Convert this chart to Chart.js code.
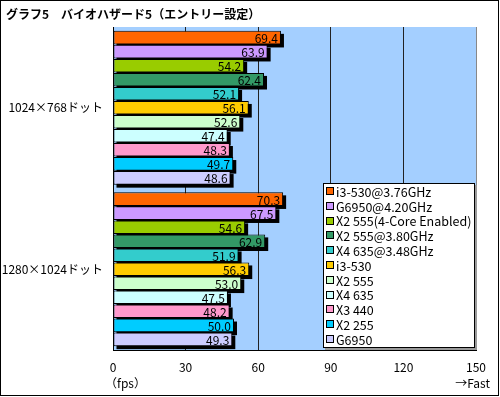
<!DOCTYPE html>
<html><head><meta charset="utf-8">
<script src="https://cdn.jsdelivr.net/npm/chart.js@4/dist/chart.umd.min.js"></script>
<style>
html,body{margin:0;padding:0;background:#fff;}
#wrap{position:relative;width:500px;height:397px;}
</style></head>
<body><div id="wrap"><canvas id="c" width="500" height="397"></canvas></div>
<script>
const titleText = 'グラフ5　バイオハザード5（エントリー設定）';
const categories = ['1024×768ドット', '1280×1024ドット'];
const seriesNames = ['i3-530@3.76GHz','G6950@4.20GHz','X2 555(4-Core Enabled)','X2 555@3.80GHz','X4 635@3.48GHz','i3-530','X2 555','X4 635','X3 440','X2 255','G6950'];
const seriesColors = ['#ff6600','#cc99ff','#99cc00','#339966','#33cccc','#ffcc00','#ccffcc','#ccffff','#ff99cc','#00ccff','#ccccff'];
const vals_i3_530_oc = [69.4, 70.3];
const vals_g6950_oc = [63.9, 67.5];
const vals_x2555_4core = [54.2, 54.6];
const vals_x2555_oc = [62.4, 62.9];
const vals_x4635_oc = [52.1, 51.9];
const vals_i3_530 = [56.1, 56.3];
const vals_x2555 = [52.6, 53.0];
const vals_x4635 = [47.4, 47.5];
const vals_x3440 = [48.3, 48.2];
const vals_x2255 = [49.7, 50.0];
const vals_g6950 = [48.6, 49.3];
const seriesValues = [vals_i3_530_oc, vals_g6950_oc, vals_x2555_4core, vals_x2555_oc, vals_x4635_oc, vals_i3_530, vals_x2555, vals_x4635, vals_x3440, vals_x2255, vals_g6950];
const xTicks = [0, 30, 60, 90, 120, 150];

const FONT = '"Noto Sans CJK JP", "DejaVu Sans", sans-serif';

const datasets = seriesNames.map((n, i) => ({
  label: n,
  data: seriesValues[i],
  backgroundColor: seriesColors[i],
  borderColor: '#000',
  borderWidth: 1,
  borderSkipped: false,
  categoryPercentage: 0.955,
  barPercentage: 0.97
}));

const decor = {
  id: 'decor',
  beforeDraw(chart) {
    const {ctx, chartArea: a} = chart;
    ctx.save();
    ctx.fillStyle = '#fff';
    ctx.fillRect(0, 0, chart.width, chart.height);
    ctx.fillStyle = '#a4cfff';
    ctx.fillRect(a.left, a.top, a.right - a.left, a.bottom - a.top);
    ctx.restore();
  },
  beforeDatasetsDraw(chart) {
    const ctx = chart.ctx;
    ctx.save();
    ctx.fillStyle = '#000';
    chart.data.datasets.forEach((ds, i) => {
      chart.getDatasetMeta(i).data.forEach(bar => {
        const h = bar.height;
        ctx.fillRect(bar.base + 3, bar.y - h / 2 + 3, bar.x - bar.base, h);
      });
    });
    ctx.restore();
  },
  afterDatasetsDraw(chart) {
    const ctx = chart.ctx;
    ctx.save();
    ctx.fillStyle = '#000';
    ctx.font = '12px ' + FONT;
    ctx.textAlign = 'right';
    ctx.textBaseline = 'middle';
    chart.data.datasets.forEach((ds, i) => {
      chart.getDatasetMeta(i).data.forEach((bar, j) => {
        ctx.fillText(ds.data[j].toFixed(1), bar.x - 3, bar.y + 1);
      });
    });
    ctx.restore();
  },
  afterDraw(chart) {
    const {ctx, chartArea: a} = chart;
    ctx.save();
    ctx.strokeStyle = '#888';
    ctx.lineWidth = 1;
    ctx.beginPath();
    ctx.moveTo(Math.round(a.right) + 0.5, a.top);
    ctx.lineTo(Math.round(a.right) + 0.5, a.bottom);
    ctx.stroke();
    ctx.fillStyle = '#000';
    ctx.font = 'bold 12px ' + FONT;
    ctx.textAlign = 'left';
    ctx.textBaseline = 'middle';
    ctx.fillText(titleText, 6, 14);
    ctx.font = '12px ' + FONT;
    ctx.textAlign = 'left';
    ctx.fillText('（fps）', 105, 383);
    ctx.textAlign = 'right';
    ctx.fillText('→Fast', 490, 383);
    const lx = 323, ly = 183, lw = 152, lh = 165;
    ctx.fillStyle = '#999';
    ctx.fillRect(lx + 2, ly + 2, lw, lh);
    ctx.fillStyle = '#fff';
    ctx.fillRect(lx, ly, lw, lh);
    ctx.strokeStyle = '#000';
    ctx.strokeRect(lx + 0.5, ly + 0.5, lw - 1, lh - 1);
    ctx.textAlign = 'left';
    ctx.font = '12.5px ' + FONT;
    seriesNames.forEach((n, i) => {
      const y = 191 + i * 14.8;
      ctx.fillStyle = seriesColors[i];
      ctx.fillRect(326, Math.round(y) - 4, 8, 8);
      ctx.strokeStyle = '#000';
      ctx.strokeRect(326.5, Math.round(y) - 3.5, 7, 7);
      ctx.fillStyle = '#000';
      ctx.fillText(n, 336, y + 1);
    });
    ctx.strokeStyle = '#000';
    ctx.strokeRect(0.5, 0.5, chart.width - 2, chart.height - 2);
    ctx.restore();
  }
};

new Chart(document.getElementById('c'), {
  type: 'bar',
  data: { labels: categories, datasets },
  options: {
    indexAxis: 'y',
    responsive: false,
    animation: false,
    layout: { padding: { top: 27, right: 24, left: 0, bottom: 0 } },
    plugins: { legend: { display: false }, tooltip: { enabled: false }, title: { display: false } },
    scales: {
      x: {
        min: 0, max: 150,
        afterBuildTicks(scale) { scale.ticks = xTicks.map(v => ({ value: v })); },
        afterFit(scale) { scale.height = 47; },
        ticks: { color: '#000', font: { family: FONT, size: 12 }, padding: 10, maxRotation: 0 },
        grid: { color: ctx => (ctx.tick && ctx.tick.value === 150) ? '#888' : '#222', lineWidth: 1, drawTicks: false },
        border: { display: true, color: '#000' }
      },
      y: {
        afterFit(scale) { scale.width = 113; },
        ticks: { color: '#000', font: { family: FONT, size: 12 }, padding: 10 },
        grid: { display: false, drawTicks: false },
        border: { display: true, color: '#000' }
      }
    }
  },
  plugins: [decor]
});
</script></body></html>
